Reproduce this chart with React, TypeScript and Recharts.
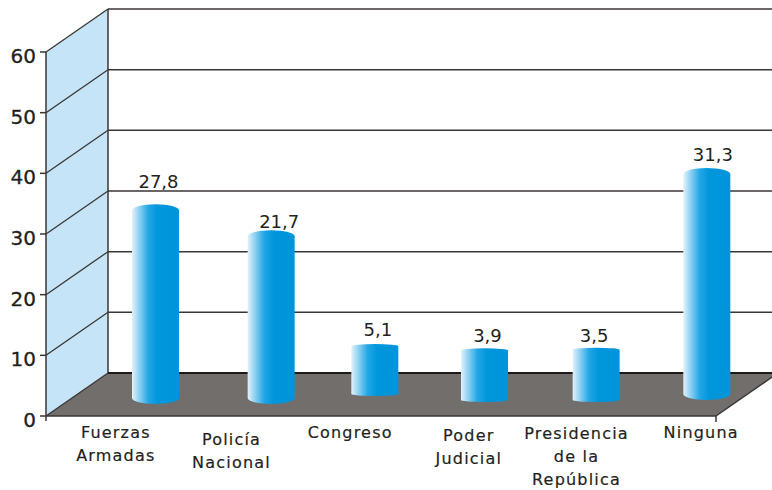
import { BarChart, Bar, XAxis, YAxis, ReferenceArea, ReferenceLine } from "recharts";

const categories = ["Fuerzas Armadas", "Policía Nacional", "Congreso", "Poder Judicial", "Presidencia de la República", "Ninguna"];
const categoryLines = [["Fuerzas", "Armadas"], ["Policía", "Nacional"], ["Congreso"], ["Poder", "Judicial"], ["Presidencia", "de la", "República"], ["Ninguna"]];
const values = [27.8, 21.7, 5.1, 3.9, 3.5, 31.3];
const yTicks = [0, 10, 20, 30, 40, 50, 60];

// the source is a hand drawn 3D picture, so each cylinder sits off the axis scale by its own amount
const barShiftX = [54, 58, 50, 48, 48, 47];
const topLift = [37, 48, 39, 42, 45, 52];
const baseLift = [18, 18, 22, 16, 16, 22];
const capHeight = [6, 6, 2, 2, 2, 6];
const valueShiftX = [3, 8, 3, 3, -2, 6];
const valueGap = [16, 2, 8, 6, 6, 7];
const labelShiftX = [14, 18, 25, 32, 28, 41];
const labelBaseline = [22, 29, 22, 25, 23, 22];

const data = categories.map((name, i) => ({ name, value: values[i] }));

const DEPTH_X = 62;
const DEPTH_Y = 43;
const INK = "#231f20";
const LINE = "#3a3634";
const FONT = "'DejaVu Sans', sans-serif";

function Room({ x, y, width, height }: any) {
  const left = x;
  const right = x + width;
  const bottom = y + height;
  return (
    <g>
      <polygon
        points={`${left},${y} ${left + DEPTH_X},${y - DEPTH_Y} ${left + DEPTH_X},${bottom - DEPTH_Y} ${left},${bottom}`}
        fill="#c5e4f7"
      />
      <polygon
        points={`${left},${bottom} ${left + DEPTH_X},${bottom - DEPTH_Y} ${right + DEPTH_X},${bottom - DEPTH_Y} ${right},${bottom}`}
        fill="#716e6b"
      />
      <line x1={left + DEPTH_X} y1={y - DEPTH_Y} x2={left + DEPTH_X} y2={bottom - DEPTH_Y} stroke={LINE} strokeWidth={1.5} />
      <line x1={right} y1={bottom} x2={right + DEPTH_X} y2={bottom - DEPTH_Y} stroke={LINE} strokeWidth={1.5} />
      <line x1={right} y1={bottom} x2={right} y2={bottom + 6} stroke={LINE} strokeWidth={1.5} />
      <line x1={left} y1={bottom} x2={left} y2={bottom + 5} stroke={LINE} strokeWidth={1.5} />
    </g>
  );
}

function WallLine({ x1, y1, x2, y2, isFloor }: any) {
  const backY = y1 - DEPTH_Y;
  return (
    <g>
      <line x1={x1} y1={y1} x2={x1 + DEPTH_X} y2={backY} stroke={LINE} strokeWidth={1.3} />
      <line
        x1={x1 + DEPTH_X}
        y1={backY}
        x2={x2 + DEPTH_X}
        y2={y2 - DEPTH_Y}
        stroke={isFloor ? "#1c1918" : LINE}
        strokeWidth={isFloor ? 2 : 1.5}
      />
    </g>
  );
}

function Cylinder({ x, y, width, height, index }: any) {
  const rx = width / 2;
  const cx = x + rx + barShiftX[index];
  const top = y - topLift[index];
  const base = y + height - baseLift[index];
  const ry = capHeight[index];
  return (
    <g>
      <path
        d={`M${cx - rx},${top} A${rx},${ry} 0 0 1 ${cx + rx},${top} V${base} A${rx},${ry} 0 0 1 ${cx - rx},${base} Z`}
        fill="url(#cylinderFill)"
      />
      <text
        x={cx + valueShiftX[index]}
        y={top - ry - valueGap[index]}
        textAnchor="middle"
        fontFamily={FONT}
        fontSize={18}
        fill={INK}
      >
        {values[index].toFixed(1).replace(".", ",")}
      </text>
    </g>
  );
}

function CategoryTick({ x, index }: any) {
  return (
    <text textAnchor="middle" fontFamily={FONT} fontSize={16} letterSpacing={1.2} fill={INK} stroke={INK} strokeWidth={0.2}>
      {categoryLines[index].map((line, row) => (
        <tspan key={line} x={x + labelShiftX[index]} y={416 + labelBaseline[index] + row * 23}>
          {line}
        </tspan>
      ))}
    </text>
  );
}

export default function App() {
  return (
    <div style={{ position: "absolute", left: 0, top: 0 }}>
      <BarChart width={772} height={490} data={data} margin={{ top: 52, right: 56, bottom: 0, left: 0 }} barCategoryGap={0}>
        <defs>
          <linearGradient id="cylinderFill" x1="0" y1="0" x2="1" y2="0">
            <stop offset="0" stopColor="#e3f2fb" />
            <stop offset="0.35" stopColor="#22a6e6" />
            <stop offset="0.55" stopColor="#0096dc" />
            <stop offset="1" stopColor="#0095da" />
          </linearGradient>
        </defs>
        <ReferenceArea y1={0} y2={60} ifOverflow="visible" zIndex={10} shape={<Room />} />
        {yTicks.map((tick) => (
          <ReferenceLine key={tick} y={tick} ifOverflow="visible" zIndex={50} shape={(props: any) => <WallLine {...props} isFloor={tick === 0} />} />
        ))}
        <XAxis
          dataKey="name"
          height={74}
          interval={0}
          tickLine={false}
          axisLine={{ stroke: LINE, strokeWidth: 1.5 }}
          tick={<CategoryTick />}
        />
        <YAxis
          width={46}
          domain={[0, 60]}
          ticks={yTicks}
          tickSize={6}
          tickMargin={4}
          axisLine={{ stroke: LINE, strokeWidth: 1.5 }}
          tickLine={{ stroke: LINE, strokeWidth: 1.5 }}
          tick={{ fontFamily: FONT, fontSize: 20, fill: INK, stroke: INK, strokeWidth: 0.3, dy: 4 }}
        />
        <Bar dataKey="value" barSize={47} zIndex={600} isAnimationActive={false} shape={<Cylinder />} />
      </BarChart>
    </div>
  );
}
